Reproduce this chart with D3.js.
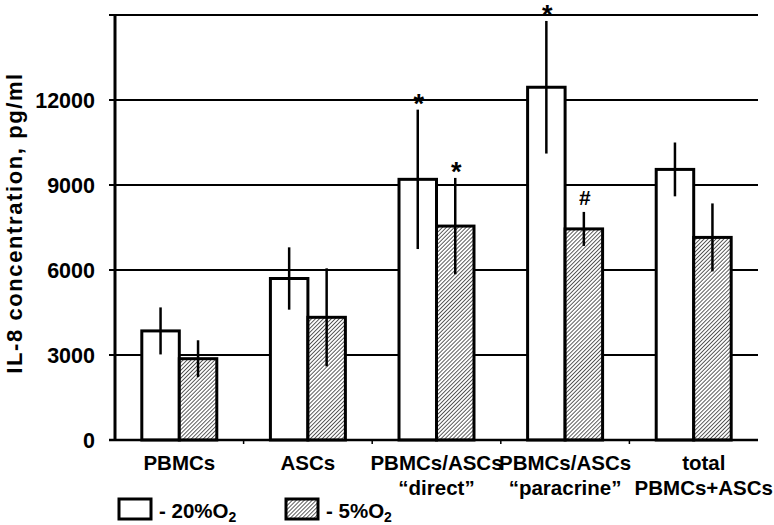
<!DOCTYPE html>
<html><head><meta charset="utf-8">
<script src="https://cdn.jsdelivr.net/npm/d3@7"></script>
<style>
body{margin:0;background:#fff}
svg{display:block}
text{font-family:"Liberation Sans",Arial,Helvetica,sans-serif}
</style>
</head><body>
<svg id="chart" width="774" height="525"></svg>
<script>
// ---- data ----
const categories = [["PBMCs"], ["ASCs"], ["PBMCs/ASCs", "\u201Cdirect\u201D"], ["PBMCs/ASCs", "\u201Cparacrine\u201D"], ["total", "PBMCs+ASCs"]];
const seriesNames = ["20%O2", "5%O2"];
const values20 = [3850, 5700, 9200, 12450, 9550];
const errors20 = [830, 1100, 2460, 2340, 950];
const values5 = [2870, 4330, 7550, 7450, 7150];
const errors5 = [650, 1730, 1700, 600, 1200];
const marks20 = ["", "", "*", "*", ""];
const marks5 = ["", "", "*", "#", ""];
const yTickValues = [0, 3000, 6000, 9000, 12000, 15000];
const yTickLabels = ["0", "3000", "6000", "9000", "12000", ""];
const yTitle = "IL-8 concentration, pg/ml";

// ---- layout ----
const W = 774;
const svg = d3.select("#chart");
const pLeft = 115, pRight = 758, pTop = 15, pBottom = 440;

const x = d3.scaleBand().domain(d3.range(categories.length)).range([pLeft, pRight]);
const xs = d3.scaleBand().domain(seriesNames).range([0, x.bandwidth()]).paddingInner(0).paddingOuter(0.715);
const y = d3.scaleLinear().domain([0, 15000]).range([pBottom, pTop]);

// hatch pattern
const defs = svg.append("defs");
const hs = 2.8;
const pat = defs.append("pattern").attr("id", "hatch").attr("patternUnits", "userSpaceOnUse")
  .attr("width", hs).attr("height", hs).attr("patternTransform", "rotate(45)");
pat.append("rect").attr("width", hs).attr("height", hs).attr("fill", "#fff");
pat.append("line").attr("x1", 0).attr("y1", 0).attr("x2", 0).attr("y2", hs)
  .attr("stroke", "#111").attr("stroke-width", 1.35);

// gridlines with outward ticks
svg.append("g").selectAll("line").data(yTickValues.filter(d => d > 0)).join("line")
  .attr("x1", pLeft - 6).attr("x2", pRight)
  .attr("y1", d => y(d)).attr("y2", d => y(d))
  .attr("stroke", "#000").attr("stroke-width", 2);

// y tick labels
svg.append("g").selectAll("text").data(yTickValues).join("text")
  .attr("x", 95).attr("y", d => y(d)).attr("dy", "0.36em")
  .attr("text-anchor", "end").attr("font-weight", "bold").attr("font-size", 21.5)
  .text((d, i) => yTickLabels[i]);

// bars
const rows = categories.map((c, i) => ({i, v: [values20[i], values5[i]], e: [errors20[i], errors5[i]], m: [marks20[i], marks5[i]]}));
const gBars = svg.append("g");
rows.forEach(r => {
  seriesNames.forEach((s, k) => {
    const x0 = x(r.i) + xs(s);
    gBars.append("rect")
      .attr("x", x0).attr("y", y(r.v[k]))
      .attr("width", xs.bandwidth()).attr("height", y(0) - y(r.v[k]))
      .attr("fill", k === 0 ? "#fff" : "url(#hatch)")
      .attr("stroke", "#000").attr("stroke-width", 3);
  });
});

// axes lines
svg.append("line").attr("x1", pLeft).attr("x2", pLeft).attr("y1", pTop).attr("y2", pBottom + 1)
  .attr("stroke", "#000").attr("stroke-width", 3);
svg.append("line").attr("x1", pLeft - 6).attr("x2", pRight).attr("y1", pBottom).attr("y2", pBottom)
  .attr("stroke", "#000").attr("stroke-width", 2.5);
svg.append("g").selectAll("line").data(d3.range(1, categories.length)).join("line")
  .attr("x1", d => x(d)).attr("x2", d => x(d))
  .attr("y1", pBottom).attr("y2", pBottom + 4)
  .attr("stroke", "#000").attr("stroke-width", 1.5);

// error bars + marks
const gErr = svg.append("g");
rows.forEach(r => {
  seriesNames.forEach((s, k) => {
    const cx = x(r.i) + xs(s) + xs.bandwidth() / 2;
    gErr.append("line").attr("x1", cx).attr("x2", cx)
      .attr("y1", y(r.v[k] + r.e[k])).attr("y2", y(r.v[k] - r.e[k]))
      .attr("stroke", "#000").attr("stroke-width", 2.5);
    const m = r.m[k];
    if (m) {
      gErr.append("text").attr("x", cx + 1)
        .attr("y", y(r.v[k] + r.e[k]) + (m === "*" ? 3.5 : -7))
        .attr("text-anchor", "middle")
        .attr("font-size", m === "*" ? 27 : 21)
        .attr("font-weight", "bold")
        .text(m);
    }
  });
});

// category labels (kept inside the picture's right edge)
const gCat = svg.append("g");
categories.forEach((lines, i) => {
  const t = gCat.append("text").attr("text-anchor", "middle")
    .attr("font-weight", "bold").attr("font-size", 20.5);
  const spans = lines.map((ln, j) => t.append("tspan").attr("y", 470 + j * 25).text(ln));
  const maxW = d3.max(spans, s => s.node().getComputedTextLength());
  let cx = x(i) + x.bandwidth() / 2;
  if (i === categories.length - 1) cx = W - 1 - maxW / 2;
  spans.forEach(s => s.attr("x", cx));
});

// y title
svg.append("text")
  .attr("transform", "translate(21.5,223) rotate(-90)")
  .attr("text-anchor", "middle").attr("font-weight", "bold").attr("font-size", 22)
  .attr("letter-spacing", "1.6px")
  .text(yTitle);

// legend
const legend = [{x: 119, fill: "#fff", label: "- 20%O", sub: "2"}, {x: 286, fill: "url(#hatch)", label: "- 5%O", sub: "2"}];
legend.forEach(l => {
  svg.append("rect").attr("x", l.x).attr("y", 499).attr("width", 32).attr("height", 20)
    .attr("fill", l.fill).attr("stroke", "#000").attr("stroke-width", 3);
  const t = svg.append("text").attr("x", l.x + 40).attr("y", 518)
    .attr("font-weight", "bold").attr("font-size", 20.5);
  t.append("tspan").text(l.label);
  t.append("tspan").attr("dy", 4).attr("font-size", 14).text(l.sub);
});
</script>
</body></html>
